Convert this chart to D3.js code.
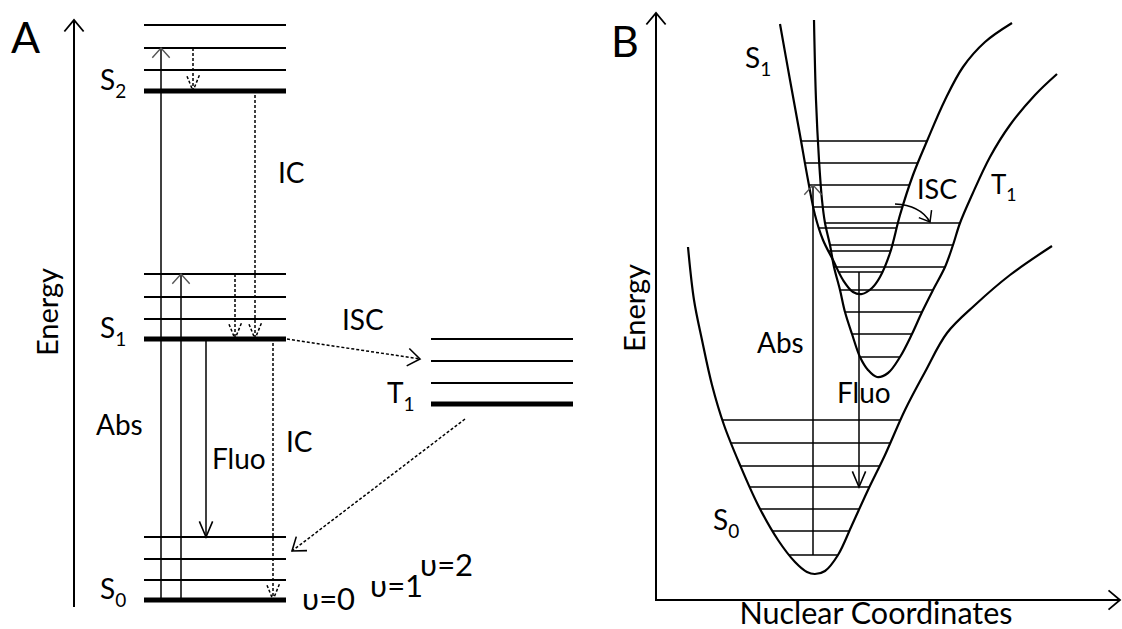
<!DOCTYPE html>
<html>
<head>
<meta charset="utf-8">
<script src="https://cdn.jsdelivr.net/npm/d3@7"></script>
<style>
  body { margin: 0; background: #fff; }
  svg { display: block; }
  text { font-family: Lato, "Open Sans", sans-serif; fill: #000; }
</style>
</head>
<body>
<div id="main"></div>
<script>
const W = 1122, H = 629;

// ---- panel A : Jablonski levels (energy units) ----
const levelsS0 = [5, 25, 46, 68];
const levelsS1 = [266, 286, 308, 331];
const levelsS2 = [514, 535, 557, 580];
const levelsT1 = [201, 222, 244, 266];
const singletCol = [72, 214];
const tripletCol = [359, 501];

// transitions in panel A: [x, energy] pairs
const arrowsA = [
    {kind: "abs",  from: [89, 5],    to: [89, 557]},
    {kind: "abs",  from: [109, 5],   to: [109, 331]},
    {kind: "fluo", from: [134, 266], to: [134, 68]},
    {kind: "nr",   from: [121, 557], to: [121, 514]},
    {kind: "nr",   from: [183, 510], to: [183, 266]},
    {kind: "nr",   from: [163, 331], to: [163, 266]},
    {kind: "nr",   from: [201, 262], to: [201, 5]},
    {kind: "isc",  from: [215, 266], to: [348, 246]},
    {kind: "isc",  from: [393, 186], to: [220, 54]}
];

// ---- panel B : potential energy curves [nuclear coordinate, energy] ----
const curveS1 = [[124,576],[134,520],[144,465],[152,420],[159,385],[167,360],[177,340],[187,320],
    [197,308],[206,306],[216,312],[224,323],[234,347],[244,385],[257,425],[271,459],[289,500],
    [307,533],[329,558],[356,577]];
const curveT1 = [[158,580],[160,500],[163,440],[166,400],[169,377],[174,355],[178,333],[184,310],
    [189,288],[196,266],[204,243],[212,230],[221,223],[232,227],[244,243],[256,266],[266,288],
    [277,310],[289,333],[297,355],[304,377],[316,405],[334,443],[354,475],[379,505],[401,526]];
const curveS0 = [[32,353],[38,300],[46,260],[56,215],[68,175],[84,135],[102,95],[122,60],
    [139,38],[151,28],[159,26],[169,29],[182,45],[196,75],[212,110],[229,145],[249,190],
    [269,228],[291,267],[319,295],[354,325],[396,354]];

const vibS1 = [459, 437, 415, 393, 372, 349, 328];
const vibT1 = [377, 355, 333, 310, 288, 266, 243];
const vibS0 = [180, 157, 134, 113, 91, 69, 45];

const arrowsB = [
    {kind: "abs",  from: [157, 45],  to: [157, 415]},
    {kind: "fluo", from: [203, 328], to: [203, 113]}
];
const iscB = [[239, 396], [264, 395], [274, 378]];

// ---- scales ----
const xA = d3.scaleLinear().domain([0, 500]).range([72, 572]);
const yA = d3.scaleLinear().domain([0, 585]).range([605, 20]);
const xB = d3.scaleLinear().domain([0, 466]).range([656, 1122]);
const yB = d3.scaleLinear().domain([0, 587]).range([600, 13]);

const arrowStyle = {
    abs:  {dash: null,  head: {len: 13, ang: 42, color: "#555", w: 1.4}},
    fluo: {dash: null,  head: {len: 17, ang: 23, color: "#000", w: 1.6}},
    nr:   {dash: "3,2", head: {len: 17, ang: 22, color: "#000", w: 1.5, dash: "3,2"}},
    isc:  {dash: "3,2", head: {len: 15, ang: 36, color: "#000", w: 1.6}}
};

const svg = d3.select("#main").append("svg")
    .attr("width", W).attr("height", H);
svg.append("rect").attr("width", W).attr("height", H).attr("fill", "#fff");

function head(g, tip, back, spec) {
    const r = spec.ang * Math.PI / 180;
    const p1 = [tip[0] + spec.len * Math.cos(back + r), tip[1] + spec.len * Math.sin(back + r)];
    const p2 = [tip[0] + spec.len * Math.cos(back - r), tip[1] + spec.len * Math.sin(back - r)];
    g.append("path")
        .attr("d", `M${p1}L${tip}L${p2}`)
        .attr("fill", "none")
        .attr("stroke", spec.color)
        .attr("stroke-width", spec.w)
        .attr("stroke-dasharray", spec.dash || null);
}

function arrow(g, a, sx, sy) {
    const st = arrowStyle[a.kind];
    const p0 = [sx(a.from[0]), sy(a.from[1])], p1 = [sx(a.to[0]), sy(a.to[1])];
    g.append("line")
        .attr("x1", p0[0]).attr("y1", p0[1]).attr("x2", p1[0]).attr("y2", p1[1])
        .attr("stroke", "#000").attr("stroke-width", 1.5)
        .attr("stroke-dasharray", st.dash);
    head(g, p1, Math.atan2(p0[1] - p1[1], p0[0] - p1[0]), st.head);
}

function label(g, x, y, main, sub, size) {
    const t = g.append("text").attr("x", x).attr("y", y).attr("font-size", size);
    t.append("tspan").text(main);
    if (sub) t.append("tspan").attr("dy", size * 0.28).attr("font-size", size * 0.68).text(sub);
    return t;
}

function chevronAxis(g, x1, y1, x2, y2) {
    g.append("line").attr("x1", x1).attr("y1", y1).attr("x2", x2).attr("y2", y2)
        .attr("stroke", "#000").attr("stroke-width", 2);
    head(g, [x2, y2], Math.atan2(y1 - y2, x1 - x2), {len: 15, ang: 40, color: "#000", w: 1.8});
}

// ================= PANEL A =================
const gA = svg.append("g");

chevronAxis(gA, 74, 607, 74, 20);
gA.append("text").attr("transform", "translate(58,312) rotate(-90)")
    .attr("text-anchor", "middle").attr("font-size", 29).text("Energy");
gA.append("text").attr("x", 11).attr("y", 53).attr("font-size", 43).text("A");

const states = [
    {name: "S", sub: "0", levels: levelsS0, col: singletCol},
    {name: "S", sub: "1", levels: levelsS1, col: singletCol},
    {name: "S", sub: "2", levels: levelsS2, col: singletCol},
    {name: "T", sub: "1", levels: levelsT1, col: tripletCol}
];

states.forEach(s => {
    gA.append("g").selectAll("line")
        .data(s.levels)
        .join("line")
        .attr("x1", xA(s.col[0])).attr("x2", xA(s.col[1]))
        .attr("y1", d => yA(d)).attr("y2", d => yA(d))
        .attr("stroke", "#000")
        .attr("stroke-width", (d, i) => i === 0 ? 5 : 2.2);
    label(gA, xA(s.col[0]) - 44, yA(s.levels[0]) - 1, s.name, s.sub, 28);
});

arrowsA.forEach(a => arrow(gA, a, xA, yA));

label(gA, 278, 183, "IC", null, 28);
label(gA, 342, 330, "ISC", null, 28);
label(gA, 96, 435, "Abs", null, 28);
label(gA, 212, 469, "Fluo", null, 28);
label(gA, 286, 452, "IC", null, 28);
label(gA, 302, 610, "υ=0", null, 31);
label(gA, 370, 597, "υ=1", null, 31);
label(gA, 420, 576, "υ=2", null, 31);

// ================= PANEL B =================
const gB = svg.append("g");

chevronAxis(gB, 656, 600, 656, 13);
chevronAxis(gB, 655, 600, 1120, 600);
gB.append("text").attr("transform", "translate(645,308) rotate(-90)")
    .attr("text-anchor", "middle").attr("font-size", 29).text("Energy");
gB.append("text").attr("x", 876).attr("y", 624).attr("text-anchor", "middle")
    .attr("font-size", 30.5).text("Nuclear Coordinates");
gB.append("text").attr("x", 611).attr("y", 57).attr("font-size", 43).text("B");

const line = d3.line()
    .x(d => xB(d[0])).y(d => yB(d[1]))
    .curve(d3.curveCatmullRom.alpha(0.5));

function sample(node) {
    const L = node.getTotalLength(), pts = [];
    for (let s = 0; s <= L; s += 0.5) pts.push(node.getPointAtLength(s));
    return pts;
}

function span(pts, py) {
    const xs = [];
    for (let i = 1; i < pts.length; i++) {
        const a = pts[i - 1], b = pts[i];
        if ((a.y - py) * (b.y - py) <= 0 && a.y !== b.y)
            xs.push(a.x + (py - a.y) / (b.y - a.y) * (b.x - a.x));
    }
    return d3.extent(xs);
}

const wells = [
    {pts: curveS0, vib: vibS0},
    {pts: curveT1, vib: vibT1},
    {pts: curveS1, vib: vibS1}
];

wells.forEach(w => {
    const p = gB.append("path")
        .attr("d", line(w.pts))
        .attr("fill", "none")
        .attr("stroke", "#000")
        .attr("stroke-width", 2.2);
    const samples = sample(p.node());
    gB.append("g").selectAll("line")
        .data(w.vib)
        .join("line")
        .each(function (e) {
            const py = yB(e), ext = span(samples, py);
            d3.select(this)
                .attr("x1", ext[0]).attr("x2", ext[1])
                .attr("y1", py).attr("y2", py);
        })
        .attr("stroke", "#000")
        .attr("stroke-width", 1.5);
});

arrowsB.forEach(a => arrow(gB, a, xB, yB));

// curved ISC arrow between the wells
const ip = iscB.map(d => [xB(d[0]), yB(d[1])]);
gB.append("path")
    .attr("d", `M${ip[0]}Q${ip[1]} ${ip[2]}`)
    .attr("fill", "none").attr("stroke", "#000").attr("stroke-width", 1.5);
head(gB, ip[2], Math.atan2(ip[1][1] - ip[2][1], ip[1][0] - ip[2][0]),
    {len: 12, ang: 38, color: "#000", w: 1.5});

label(gB, 745, 68, "S", "1", 28);
label(gB, 917, 199, "ISC", null, 27);
label(gB, 991, 194, "T", "1", 26);
label(gB, 757, 353, "Abs", null, 28);
label(gB, 837, 403, "Fluo", null, 28);
label(gB, 713, 530, "S", "0", 28);
</script>
</body>
</html>
